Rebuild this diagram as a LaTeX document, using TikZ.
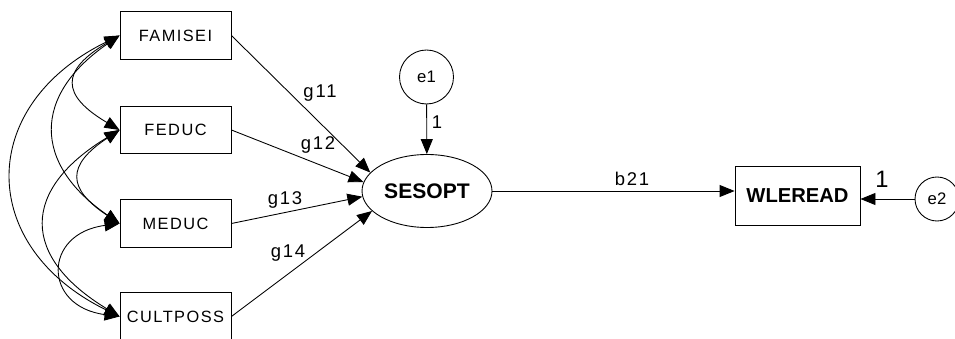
\documentclass[tikz,border=0pt]{standalone}
\usepackage{fontspec}
\setmainfont{Liberation Sans}
\newfontfamily\obsfont[LetterSpace=9]{Liberation Sans}
\newfontfamily\parfont[LetterSpace=10]{Liberation Sans}
\usetikzlibrary{arrows.meta,shapes.geometric}

\begin{document}
\begin{tikzpicture}[x=0.02cm, y=0.02cm,
    obs/.style={draw, line width=0.5pt, inner sep=0pt, minimum width=2.22cm,
      minimum height=0.95cm, font=\obsfont\fontsize{9.3}{10}\selectfont},
    lat/.style={draw, ellipse, line width=0.5pt, inner sep=0pt, minimum width=2.6cm,
      minimum height=1.46cm, font=\bfseries\fontsize{12}{14}\selectfont},
    err/.style={draw, circle, line width=0.5pt, inner sep=0pt, font=\fontsize{9.5}{10}\selectfont},
    par/.style={inner sep=0pt, font=\parfont\fontsize{10.5}{12}\selectfont},
    reg/.style={-{Triangle[length=3mm,width=2.4mm]}, line width=0.5pt},
    cov/.style={{Triangle[length=3mm,width=2.4mm]}-{Triangle[length=3mm,width=2.4mm]}, line width=0.5pt}
  ]
        \useasboundingbox (0,0) rectangle (955,338);

        % Observed exogenous variables
        \node[obs] (famisei) at (175.5,302.5) {FAMISEI};
        \node[obs] (feduc) at (175.5,208) {FEDUC};
        \node[obs] (meduc) at (175.5,114.5) {MEDUC};
        \node[obs] (cultposs) at (175.5,21.5) {CULTPOSS};

        % Latent variable, outcome and error terms
        \node[lat] (sesopt) at (427,147) {SESOPT};
        \node[err, minimum size=1.08cm] (e1) at (426.5,261) {e1};
        \node[obs, minimum width=2.5cm, minimum height=1.18cm, font=\bfseries\fontsize{11.5}{13}\selectfont] (wleread) at (797.5,142.5) {WLEREAD};
        \node[err, minimum size=0.88cm] (e2) at (937,139) {e2};

        % Covariances between the exogenous variables
        \draw[cov] (famisei.west) .. controls +(-59,-35) and +(-59,35) .. (feduc.west);
        \draw[cov] (famisei.west) .. controls +(-87,-60) and +(-87,60) .. (meduc.west);
        \draw[cov] (famisei.west) .. controls +(-143,-70) and +(-143,70) .. (cultposs.west);
        \draw[cov] (feduc.west) .. controls +(-53,-35) and +(-53,35) .. (meduc.west);
        \draw[cov] (feduc.west) .. controls +(-99,-60) and +(-99,60) .. (cultposs.west);
        \draw[cov] (meduc.west) .. controls +(-77,-10) and +(-77,10) .. (cultposs.west);

        % Paths into SESOPT
        \draw[reg] (famisei.east) -- (sesopt.162);
        \draw[reg] (feduc.east) -- (sesopt.172);
        \draw[reg] (meduc.east) -- (sesopt.185);
        \draw[reg] (cultposs.east) -- (sesopt.200);
        \draw[reg] (e1) -- (sesopt);

        % Path to the outcome and its error
        \draw[reg] (sesopt.east) -- (sesopt.east -| wleread.west);
        \draw[reg] (e2.west) -- (wleread.east |- e2.west);

        % Coefficients
        \node[par] (g11) at (320,245) {g11};
        \node[par] (g12) at (318,193) {g12};
        \node[par] (g13) at (285,138) {g13};
        \node[par] (g14) at (288,85) {g14};
        \node[par] (b21) at (632,159) {b21};
        \node[inner sep=0pt, font=\fontsize{10.5}{11}\selectfont] (w1) at (437,216) {1};
        \node[inner sep=0pt, font=\fontsize{13.5}{15}\selectfont] (w2) at (882,159) {1};

      \end{tikzpicture}
\end{document}
